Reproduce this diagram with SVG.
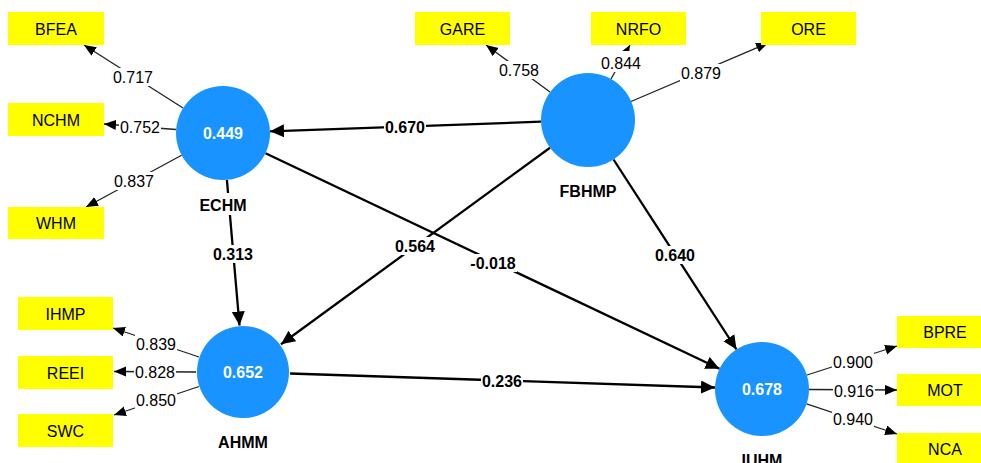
<svg xmlns="http://www.w3.org/2000/svg" width="981" height="463" viewBox="0 0 981 463">
<style>
text{font-family:"Liberation Sans",Arial,sans-serif;font-size:16px;fill:#000;text-anchor:middle}
.box{fill:#ffff00}
.lv{fill:#1893ff}
.val{fill:#fff;font-weight:bold}
.name{font-weight:bold}
.pl{font-weight:bold}
.ld{stroke:#222;stroke-width:1.3;fill:none;marker-end:url(#ah)}
.st{stroke:#000;stroke-width:2.3;fill:none;marker-end:url(#AH)}
.bg{fill:#fff}
</style>
<defs>
<marker id="ah" markerUnits="userSpaceOnUse" markerWidth="13" markerHeight="11" refX="12" refY="5" orient="auto"><path d="M0,0 L12,5 L0,10 z" fill="#000"/></marker>
<marker id="AH" markerUnits="userSpaceOnUse" markerWidth="15" markerHeight="14" refX="14" refY="6.5" orient="auto"><path d="M0,0 L14,6.5 L0,13 z" fill="#000"/></marker>
</defs>
<rect width="981" height="463" fill="#fff"/>
<g id="connectors">
<line class="ld" x1="183" y1="108" x2="84" y2="45"/>
<line class="ld" x1="176" y1="129.5" x2="104" y2="124"/>
<line class="ld" x1="181.6" y1="155.3" x2="86" y2="207"/>
<line class="ld" x1="550" y1="92" x2="486" y2="45"/>
<line class="ld" x1="611" y1="79" x2="630" y2="45"/>
<line class="ld" x1="631" y1="101.5" x2="768" y2="43"/>
<line class="ld" x1="199" y1="357" x2="113" y2="328"/>
<line class="ld" x1="196" y1="372" x2="114" y2="371.5"/>
<line class="ld" x1="199" y1="386.5" x2="114" y2="415"/>
<line class="ld" x1="807" y1="375" x2="897" y2="346"/>
<line class="ld" x1="809" y1="389.5" x2="897" y2="390"/>
<line class="ld" x1="806.6" y1="403.9" x2="897" y2="434"/>
<line class="st" x1="541" y1="121.7" x2="270" y2="131.3"/>
<line class="st" x1="226.9" y1="179.8" x2="239.5" y2="325.5"/>
<line class="st" x1="550" y1="147.7" x2="281" y2="344.3"/>
<line class="st" x1="265.5" y1="153.2" x2="719.5" y2="368.8"/>
<line class="st" x1="613.5" y1="159.5" x2="736.5" y2="349.5"/>
<line class="st" x1="290" y1="373.5" x2="715" y2="387.5"/>
<g id="loading-labels">
<rect class="bg" x="112" y="68" width="42" height="18"/><text x="133" y="82.5">0.717</text>
<rect class="bg" x="119" y="119" width="42" height="17"/><text x="140" y="133">0.752</text>
<rect class="bg" x="113" y="172" width="42" height="18"/><text x="134" y="187">0.837</text>
<rect class="bg" x="498" y="61" width="42" height="18"/><text x="519" y="75.5">0.758</text>
<rect class="bg" x="600" y="51" width="42" height="21"/><text x="621" y="68.5">0.844</text>
<rect class="bg" x="680" y="64" width="42" height="18"/><text x="701" y="78.5">0.879</text>
<rect class="bg" x="135" y="335" width="42" height="18"/><text x="156" y="349.5">0.839</text>
<rect class="bg" x="134" y="364" width="42" height="17"/><text x="155" y="378">0.828</text>
<rect class="bg" x="135" y="392" width="42" height="18"/><text x="156" y="406">0.850</text>
<rect class="bg" x="832" y="353" width="42" height="18"/><text x="853" y="367.5">0.900</text>
<rect class="bg" x="833" y="382" width="42" height="17"/><text x="854" y="396.5">0.916</text>
<rect class="bg" x="832" y="410" width="42" height="18"/><text x="853" y="424.5">0.940</text>
</g>
<g id="path-labels">
<rect class="bg" x="384" y="118" width="42" height="18"/><text class="pl" x="405" y="132.5">0.670</text>
<rect class="bg" x="212" y="245" width="42" height="18"/><text class="pl" x="233" y="259.5">0.313</text>
<rect class="bg" x="394" y="237" width="42" height="18"/><text class="pl" x="415" y="251.5">0.564</text>
<rect class="bg" x="469" y="254" width="48" height="18"/><text class="pl" x="493" y="268.5">-0.018</text>
<rect class="bg" x="654" y="246" width="42" height="18"/><text class="pl" x="675" y="260.5">0.640</text>
<rect class="bg" x="481" y="372" width="42" height="18"/><text class="pl" x="502" y="386.5">0.236</text>
</g>
</g>
<g id="ECHM">
<circle class="lv" cx="223" cy="133" r="47"/>
<text class="val" x="223" y="139">0.449</text>
<rect class="bg" x="197" y="193" width="53" height="22"/>
<text class="name" x="223" y="211">ECHM</text>
</g>
<g id="FBHMP">
<circle class="lv" cx="588" cy="120" r="47"/>
<text class="name" x="588" y="197">FBHMP</text>
</g>
<g id="AHMM">
<circle class="lv" cx="243" cy="372" r="46"/>
<text class="val" x="243" y="378">0.652</text>
<text class="name" x="243" y="448">AHMM</text>
</g>
<g id="IUHM">
<circle class="lv" cx="762" cy="389" r="47"/>
<text class="val" x="762" y="395">0.678</text>
<text class="name" x="762" y="466">IUHM</text>
</g>
<g id="BFEA"><rect class="box" x="8" y="12" width="96" height="33"/><text x="56" y="34.5">BFEA</text></g>
<g id="NCHM"><rect class="box" x="8" y="103" width="96" height="33"/><text x="56" y="125.5">NCHM</text></g>
<g id="WHM"><rect class="box" x="8" y="207" width="96" height="32"/><text x="56" y="229">WHM</text></g>
<g id="GARE"><rect class="box" x="415" y="12" width="95" height="33"/><text x="462.5" y="34.5">GARE</text></g>
<g id="NRFO"><rect class="box" x="591" y="12" width="95" height="33"/><text x="638.5" y="34.5">NRFO</text></g>
<g id="ORE"><rect class="box" x="761" y="12" width="95" height="33"/><text x="808.5" y="34.5">ORE</text></g>
<g id="IHMP"><rect class="box" x="18" y="297" width="95" height="33"/><text x="65.5" y="319.5">IHMP</text></g>
<g id="REEI"><rect class="box" x="18" y="356" width="95" height="33"/><text x="65.5" y="378.5">REEI</text></g>
<g id="SWC"><rect class="box" x="18" y="414" width="95" height="33"/><text x="65.5" y="436.5">SWC</text></g>
<g id="BPRE"><rect class="box" x="897" y="316" width="96" height="32"/><text x="945" y="338">BPRE</text></g>
<g id="MOT"><rect class="box" x="897" y="374" width="96" height="32"/><text x="945" y="396">MOT</text></g>
<g id="NCA"><rect class="box" x="897" y="433" width="96" height="32"/><text x="945" y="455">NCA</text></g>
</svg>
